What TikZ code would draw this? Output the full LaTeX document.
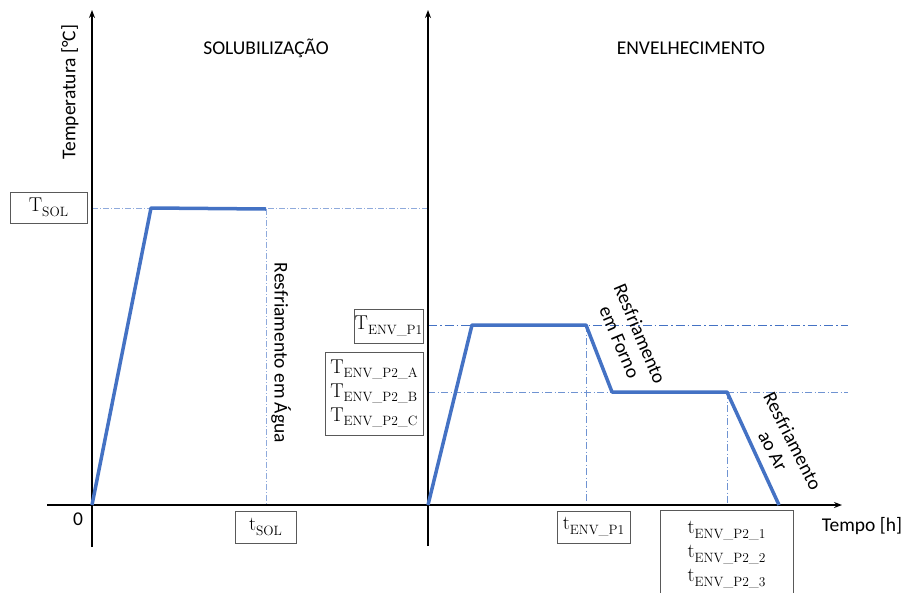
\documentclass[tikz,border=0pt]{standalone}
\usepackage{fontspec}
\newfontfamily\calibri{Carlito}
\usetikzlibrary{arrows.meta}
\definecolor{profile}{HTML}{4472C4}
\definecolor{guidelight}{HTML}{8FAADC}
\definecolor{guidemid}{HTML}{6F93D2}
% lowered index in a fixed size, as in the value boxes
\newcommand\lowidx[1]{\raisebox{-4.5pt}{\fontsize{13.5}{14}\selectfont #1}}
\begin{document}
\begin{tikzpicture}[x=1pt,y=-1pt,
  axis/.style={line width=2.2pt, black},
  axisarrow/.style={axis, -{Stealth[length=8pt,width=6pt]}},
  curve/.style={line width=3.5pt, profile, line join=round},
  guidesol/.style={guidelight, line width=0.9pt, dash pattern=on 6pt off 2pt on 1pt off 2pt},
  guidetop/.style={profile, line width=0.9pt, dash pattern=on 9pt off 3pt on 1.5pt off 3pt},
  guidelow/.style={guidemid, line width=0.8pt, dash pattern=on 7pt off 2.5pt on 1pt off 2.5pt},
  valbox/.style={draw=black!65, line width=0.8pt, inner sep=0pt, font=\fontsize{20}{24}\selectfont},
  lbl/.style={font=\calibri\fontsize{19.5}{22}\selectfont, inner sep=0pt},
]
\useasboundingbox (0,0) rectangle (905,592);

% axes
\coordinate (ylb) at (92,547);  \coordinate (ylt) at (92,10);
\coordinate (yrb) at (428,546); \coordinate (yrt) at (428,10);
\coordinate (xl) at (47,505);   \coordinate (xr) at (842,505);
\coordinate (gr) at (848,0);

% solution treatment profile
\coordinate (o1) at (92,505);
\coordinate (a1) at (151,208);
\coordinate (b1) at (266,209);

% ageing profile
\coordinate (o2) at (428,505);
\coordinate (a2) at (472,325);
\coordinate (b2) at (586,325);
\coordinate (c2) at (612,392);
\coordinate (d2) at (727,392);
\coordinate (e2) at (779,505);

% guide lines
\draw[guidesol] (o1 |- a1) -- (o2 |- a1);
\draw[guidesol] (b1) -- (b1 |- o1);
\draw[guidetop] (o2 |- a2) -- (gr |- a2);
\draw[guidelow] (o2 |- c2) -- (gr |- c2);
\draw[guidelow] (b2) -- (b2 |- o1);
\draw[guidelow] (d2) -- (d2 |- o1);

% axes
\draw[axis] (xl) -- (o1);
\draw[axisarrow] (o1) -- (xr);
\draw[axisarrow] (ylb) -- (ylt);
\draw[axisarrow] (yrb) -- (yrt);

% temperature profiles
\draw[curve] (o1) -- (a1) -- (b1);
\draw[curve] (o2) -- (a2) -- (b2) -- (c2) -- (d2) -- (e2);

% titles and axis labels
\node[lbl] (tsol) at (266,48) {SOLUBILIZAÇÃO};
\node[lbl] (tenv) at (691,48) {ENVELHECIMENTO};
\node[lbl, rotate=90] (ylab) at (70,92) {Temperatura [°C]};
\node[lbl] (xlab) at (862,526) {Tempo [h]};
\node[lbl] (zero) at (78,519) {0};

% cooling labels
\node[lbl, rotate=-90] (agua) at (281,353) {Resfriamento em Água};
\node[lbl, rotate=-67, align=center] (forno) at (630,338) {Resfriamento\\em Forno};
\node[lbl, rotate=-63, align=center] (ar) at (783,446) {Resfriamento\\ao Ar};

% value boxes
\node[valbox, minimum width=77, minimum height=31] (bsol) at (48.5,207.5) {T\lowidx{SOL}};
\node[valbox, minimum width=69, minimum height=34] (bp1) at (388.5,326) {T\lowidx{ENV\_P1}};
\node[valbox, minimum width=98, minimum height=83, align=left] (bp2) at (374,393.5)
  {T\lowidx{ENV\_P2\_A}\\T\lowidx{ENV\_P2\_B}\\T\lowidx{ENV\_P2\_C}};
\node[valbox, minimum width=61, minimum height=32] (btsol) at (265.5,527) {t\lowidx{SOL}};
\node[valbox, minimum width=73, minimum height=32] (btp1) at (593.5,527) {t\lowidx{ENV\_P1}};
\node[valbox, minimum width=133, minimum height=90, align=center] (btp2) at (726.5,555)
  {t\lowidx{ENV\_P2\_1}\\t\lowidx{ENV\_P2\_2}\\t\lowidx{ENV\_P2\_3}};
\end{tikzpicture}
\end{document}
